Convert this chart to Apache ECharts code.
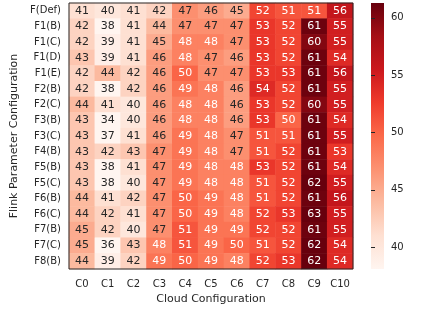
<!DOCTYPE html>
<html><head><meta charset="utf-8">
<script src="https://cdn.jsdelivr.net/npm/echarts@6/dist/echarts.min.js"></script>
<style>html,body{margin:0;padding:0;background:#fff}#c{width:422px;height:318px}</style>
</head><body><div id="c"></div>
<script>
const cloudConfigs = ['C0','C1','C2','C3','C4','C5','C6','C7','C8','C9','C10'];
const flinkConfigs = ['F(Def)','F1(B)','F1(C)','F1(D)','F1(E)','F2(B)','F2(C)','F3(B)','F3(C)','F4(B)','F5(B)','F5(C)','F6(B)','F6(C)','F7(B)','F7(C)','F8(B)'];
const rowFDef = [41,40,41,42,47,46,45,52,51,51,56];
const rowF1B  = [42,38,41,44,47,47,47,53,52,61,55];
const rowF1C  = [42,39,41,45,48,48,47,53,52,60,55];
const rowF1D  = [43,39,41,46,48,47,46,53,52,61,54];
const rowF1E  = [42,44,42,46,50,47,47,53,53,61,56];
const rowF2B  = [42,38,42,46,49,48,46,54,52,61,55];
const rowF2C  = [44,41,40,46,48,48,46,53,52,60,55];
const rowF3B  = [43,34,40,46,48,48,46,53,50,61,54];
const rowF3C  = [43,37,41,46,49,48,47,51,51,61,55];
const rowF4B  = [43,42,43,47,49,48,47,51,52,61,53];
const rowF5B  = [43,38,41,47,49,48,48,53,52,61,54];
const rowF5C  = [43,38,40,47,49,48,48,51,52,62,55];
const rowF6B  = [44,41,42,47,50,49,48,51,52,61,56];
const rowF6C  = [44,42,41,47,50,49,48,52,53,63,55];
const rowF7B  = [45,42,40,47,51,49,49,52,52,61,55];
const rowF7C  = [45,36,43,48,51,49,50,51,52,62,54];
const rowF8B  = [44,39,42,49,50,49,48,52,53,62,54];
const colorbarTicks = [40,45,50,55,60];
const rows = [rowFDef,rowF1B,rowF1C,rowF1D,rowF1E,rowF2B,rowF2C,rowF3B,rowF3C,rowF4B,rowF5B,rowF5C,rowF6B,rowF6C,rowF7B,rowF7C,rowF8B];

const VMIN = 38.1, VMAX = 61.3;
const REDS = ['#fff5f0','#fee0d2','#fcbba1','#fc9272','#fb6a4a','#ef3b2c','#cb181d','#a50f15','#67000d'];
function hex2rgb(h){return [parseInt(h.slice(1,3),16),parseInt(h.slice(3,5),16),parseInt(h.slice(5,7),16)];}
const REDS_RGB = REDS.map(hex2rgb);
function cmap(v){
  let t = (v - VMIN) / (VMAX - VMIN);
  t = Math.max(0, Math.min(1, t));
  const p = t * (REDS_RGB.length - 1);
  const i = Math.min(Math.floor(p), REDS_RGB.length - 2);
  const f = p - i;
  const a = REDS_RGB[i], b = REDS_RGB[i+1];
  return [0,1,2].map(k => a[k] + (b[k]-a[k]) * f);
}
function lum(rgb){
  const l = rgb.map(c => { c /= 255; return c <= 0.03928 ? c/12.92 : Math.pow((c+0.055)/1.055, 2.4); });
  return 0.2126*l[0] + 0.7152*l[1] + 0.0722*l[2];
}
const data = [];
rows.forEach((row, ri) => row.forEach((v, ci) => {
  const rgb = cmap(v);
  data.push({
    value: [ci, ri, v],
    itemStyle: { color: 'rgb(' + rgb.map(Math.round).join(',') + ')' },
    label: { color: lum(rgb) > 0.408 ? '#262626' : '#ffffff' }
  });
}));

const chart = echarts.init(document.getElementById('c'), null, {renderer: 'canvas'});
const FONT = 'DejaVu Sans';
chart.setOption({
  animation: false,
  backgroundColor: '#ffffff',
  textStyle: { fontFamily: FONT },
  grid: [
    { left: 69, top: 3, width: 284, height: 266, show: true, borderColor: '#262626', borderWidth: 1, backgroundColor: 'transparent', z: 5 },
    { left: 371, top: 3, width: 13, height: 266, show: true, borderWidth: 0,
      backgroundColor: new echarts.graphic.LinearGradient(0, 1, 0, 0, REDS.map((c, i) => ({ offset: i / (REDS.length - 1), color: c }))) }
  ],
  xAxis: [
    { type: 'category', gridIndex: 0, data: cloudConfigs, position: 'bottom',
      axisLine: { show: false }, axisTick: { show: false }, splitLine: { show: false },
      axisLabel: { color: '#262626', fontSize: 10, fontFamily: FONT, margin: 10 },
      name: 'Cloud Configuration', nameLocation: 'middle', nameGap: 23,
      nameTextStyle: { color: '#262626', fontSize: 11, fontFamily: FONT } },
    { type: 'value', gridIndex: 1, show: false, min: 0, max: 1 }
  ],
  yAxis: [
    { type: 'category', gridIndex: 0, data: flinkConfigs, inverse: true,
      axisLine: { show: false }, axisTick: { show: false }, splitLine: { show: false },
      axisLabel: { color: '#262626', fontSize: 10, fontFamily: FONT, margin: 8 },
      name: 'Flink Parameter Configuration', nameLocation: 'middle', nameGap: 40,
      nameTextStyle: { color: '#262626', fontSize: 11, fontFamily: FONT } },
    { type: 'value', gridIndex: 1, position: 'right', min: VMIN, max: VMAX,
      axisLine: { show: false }, splitLine: { show: false },
      axisTick: { show: true, length: 4, lineStyle: { color: '#262626' }, customValues: colorbarTicks },
      axisLabel: { color: '#262626', fontSize: 10, fontFamily: FONT, margin: 7, customValues: colorbarTicks } }
  ],
  series: [{
    type: 'heatmap', xAxisIndex: 0, yAxisIndex: 0, data: data,
    label: { show: true, fontSize: 11, fontFamily: FONT },
    emphasis: { disabled: true }, progressive: 0
  }]
});
</script></body></html>
